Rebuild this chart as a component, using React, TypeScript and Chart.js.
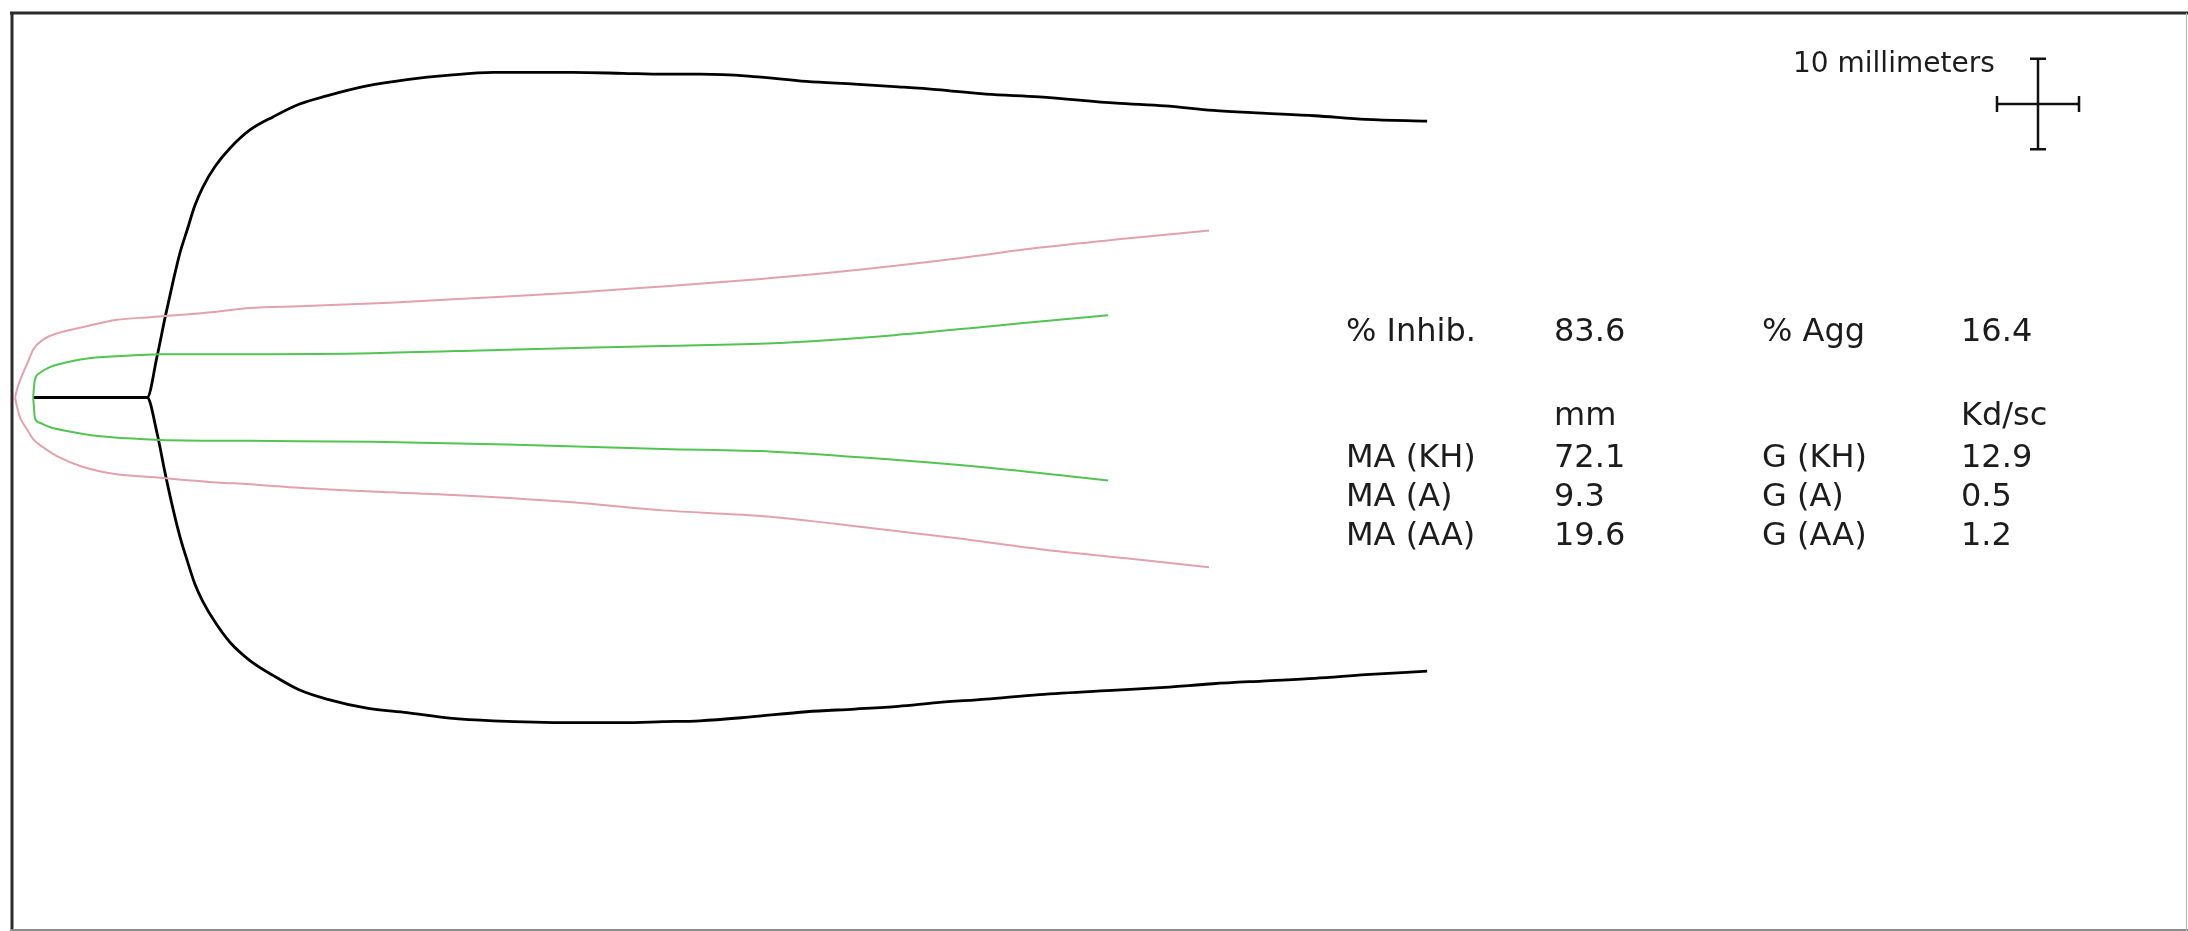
import { useEffect, useRef } from "react";
import { Chart, registerables } from "chart.js";

Chart.register(...registerables);

const CANVAS_W = 2188;
const CANVAS_H = 931;

// Trace position along the paper (mm) and half-amplitude above / below the baseline (mm).
// Kaolin + heparinase trace
const KH_X = [2.7, 16.6, 17.8, 18.8, 19.8, 20.6, 21.5, 22.4, 23.4, 24.9, 26.7, 29.1, 32.0, 35.2, 38.5, 43.4, 48.3, 53.5, 58.8, 68.5, 74.6, 79.5, 84.0, 89.9, 97.0, 102.9, 108.2, 112.9, 118.9, 125.4, 134.8, 140.7, 146.6, 152.6, 159.0, 165.2, 172.7];
const KH_UPPER = [0, 0, 4.5, 8.9, 13.0, 16.0, 18.6, 21.2, 23.3, 25.6, 27.6, 29.6, 31.1, 32.5, 33.4, 34.5, 35.2, 35.7, 36.0, 36.0, 35.9, 35.8, 35.8, 35.6, 35.0, 34.7, 34.4, 34.1, 33.6, 33.3, 32.6, 32.3, 31.8, 31.5, 31.2, 30.8, 30.6];
const KH_LOWER = [0, 0, -3.9, -8.4, -12.5, -15.4, -18.1, -20.6, -22.6, -24.9, -27.1, -29.1, -30.8, -32.4, -33.4, -34.4, -34.9, -35.5, -35.8, -36.0, -36.0, -35.9, -35.8, -35.4, -34.8, -34.5, -34.2, -33.8, -33.4, -32.9, -32.4, -32.1, -31.7, -31.4, -31.1, -30.7, -30.3];

// Arachidonic acid trace
const AA_X = [0.5, 0.7, 1.1, 2.0, 2.7, 3.9, 5.6, 8.8, 12.9, 17.0, 25.1, 29.1, 35.2, 46.2, 56.3, 68.5, 79.5, 91.1, 100.7, 115.4, 125.5, 136.0, 146.1];
const AA_UPPER = [0, 0.8, 1.9, 3.8, 5.3, 6.4, 7.1, 7.8, 8.6, 8.9, 9.5, 9.9, 10.1, 10.5, 11.0, 11.6, 12.3, 13.1, 13.9, 15.4, 16.6, 17.6, 18.5];
const AA_LOWER = [0, -0.9, -2.2, -3.6, -4.6, -5.5, -6.5, -7.7, -8.5, -8.8, -9.4, -9.6, -10.0, -10.5, -10.9, -11.6, -12.5, -13.1, -14.0, -15.6, -16.8, -17.8, -18.8];

// Activator (fibrin) trace
const A_X = [2.7, 2.8, 2.9, 3.5, 4.8, 6.8, 10.0, 15.7, 18.2, 29.1, 44.1, 60.5, 79.5, 92.9, 107.7, 119.5, 128.8, 133.8];
const A_UPPER = [0, 1.1, 1.9, 2.7, 3.4, 3.9, 4.4, 4.7, 4.8, 4.8, 4.9, 5.3, 5.7, 6.0, 6.9, 7.9, 8.7, 9.1];
const A_LOWER = [0, -1.1, -2.2, -2.8, -3.3, -3.7, -4.2, -4.6, -4.7, -4.8, -4.9, -5.2, -5.7, -6.0, -6.9, -7.8, -8.7, -9.2];

// Results table
const HEADER_ROW = ["% Inhib.", "83.6", "% Agg", "16.4"];
const UNIT_ROW = ["", "mm", "", "Kd/sc"];
const MA_LABELS = ["MA (KH)", "MA (A)", "MA (AA)"];
const MA_VALUES = [72.1, 9.3, 19.6];
const G_LABELS = ["G (KH)", "G (A)", "G (AA)"];
const G_VALUES = [12.9, 0.5, 1.2];

const SCALE_LABEL = "10 millimeters";
const SCALE_LENGTH_MM = 10;

const KH_COLOR = "#000000";
const AA_COLOR = "#e3a2ab";
const A_COLOR = "#52c452";

function toPoints(xs: number[], ys: number[]) {
  return xs.map((x, i) => ({ x, y: ys[i] }));
}

function trace(data: { x: number; y: number }[], color: string, width: number) {
  return {
    data,
    showLine: true,
    borderColor: color,
    backgroundColor: color,
    borderWidth: width,
    pointRadius: 0,
    pointHoverRadius: 0,
    fill: false,
    tension: 0,
    cubicInterpolationMode: "monotone" as const,
    borderJoinStyle: "round" as const,
  };
}

const TABLE_FONT = "32px 'DejaVu Sans', Verdana, sans-serif";
const LABEL_FONT = "28px 'DejaVu Sans', Verdana, sans-serif";
const COLS = [1346, 1554, 1762, 1961];
const ROW_BASELINES = [341, 425, 467, 506, 545];

const framePlugin = {
  id: "tegFrame",
  afterDraw(chart: any) {
    const ctx: CanvasRenderingContext2D = chart.ctx;
    ctx.save();

    // frame
    ctx.lineCap = "butt";
    ctx.strokeStyle = "#2b2b2b";
    ctx.lineWidth = 3;
    ctx.beginPath();
    ctx.moveTo(10, 13);
    ctx.lineTo(CANVAS_W, 13);
    ctx.moveTo(12, 12);
    ctx.lineTo(12, 931);
    ctx.stroke();
    ctx.strokeStyle = "#8c8c8c";
    ctx.lineWidth = 2;
    ctx.beginPath();
    ctx.moveTo(11, 930);
    ctx.lineTo(CANVAS_W, 930);
    ctx.stroke();
    ctx.strokeStyle = "#b5b5b5";
    ctx.lineWidth = 1;
    ctx.beginPath();
    ctx.moveTo(2186.5, 13);
    ctx.lineTo(2186.5, 931);
    ctx.stroke();

    // results table
    ctx.fillStyle = "#1c1c1c";
    ctx.font = TABLE_FONT;
    ctx.textBaseline = "alphabetic";
    ctx.textAlign = "left";
    HEADER_ROW.forEach((t, i) => ctx.fillText(t, COLS[i], ROW_BASELINES[0]));
    UNIT_ROW.forEach((t, i) => t && ctx.fillText(t, COLS[i], ROW_BASELINES[1]));
    MA_LABELS.forEach((label, r) => {
      const y = ROW_BASELINES[2 + r];
      ctx.fillText(label, COLS[0], y);
      ctx.fillText(MA_VALUES[r].toFixed(1), COLS[1], y);
      ctx.fillText(G_LABELS[r], COLS[2], y);
      ctx.fillText(G_VALUES[r].toFixed(1), COLS[3], y);
    });

    // scale cross: 10 mm in each direction
    const xs = chart.scales.x;
    const ys = chart.scales.y;
    const halfW = (xs.getPixelForValue(SCALE_LENGTH_MM) - xs.getPixelForValue(0)) / 2;
    const halfH = (ys.getPixelForValue(0) - ys.getPixelForValue(SCALE_LENGTH_MM)) / 2;
    const cx = 2038;
    const cy = 104;
    const cap = 8;
    ctx.strokeStyle = "#111111";
    ctx.lineWidth = 2.5;
    ctx.beginPath();
    ctx.moveTo(cx - halfW, cy);
    ctx.lineTo(cx + halfW, cy);
    ctx.moveTo(cx, cy - halfH);
    ctx.lineTo(cx, cy + halfH);
    ctx.moveTo(cx - halfW, cy - cap);
    ctx.lineTo(cx - halfW, cy + cap);
    ctx.moveTo(cx + halfW, cy - cap);
    ctx.lineTo(cx + halfW, cy + cap);
    ctx.moveTo(cx - cap, cy - halfH);
    ctx.lineTo(cx + cap, cy - halfH);
    ctx.moveTo(cx - cap, cy + halfH);
    ctx.lineTo(cx + cap, cy + halfH);
    ctx.stroke();

    ctx.font = LABEL_FONT;
    ctx.fillText(SCALE_LABEL, 1793, 72);
    ctx.restore();
  },
};

export default function App() {
  const canvasRef = useRef<HTMLCanvasElement | null>(null);

  useEffect(() => {
    const canvas = canvasRef.current;
    if (!canvas) return;
    const chart = new Chart(canvas, {
      type: "scatter",
      data: {
        datasets: [
          trace(toPoints(AA_X, AA_UPPER), AA_COLOR, 2),
          trace(toPoints(AA_X, AA_LOWER), AA_COLOR, 2),
          trace(toPoints(A_X, A_UPPER), A_COLOR, 2),
          trace(toPoints(A_X, A_LOWER), A_COLOR, 2),
          trace(toPoints(KH_X, KH_UPPER), KH_COLOR, 2.8),
          trace(toPoints(KH_X, KH_LOWER), KH_COLOR, 2.8),
        ],
      },
      options: {
        animation: false,
        responsive: false,
        devicePixelRatio: 1,
        layout: { padding: { left: 11, top: 13, right: 2, bottom: 1 } },
        plugins: {
          legend: { display: false },
          tooltip: { enabled: false },
          title: { display: false },
        },
        events: [],
        scales: {
          x: { type: "linear", display: false, min: 0, max: 265.24 },
          y: { type: "linear", display: false, min: -58.97, max: 42.58 },
        },
      },
      plugins: [framePlugin],
    });
    return () => chart.destroy();
  }, []);

  return (
    <div style={{ position: "fixed", left: 0, top: 0, width: CANVAS_W, height: CANVAS_H, background: "#ffffff" }}>
      <canvas ref={canvasRef} width={CANVAS_W} height={CANVAS_H} style={{ display: "block", width: CANVAS_W, height: CANVAS_H }} />
    </div>
  );
}
